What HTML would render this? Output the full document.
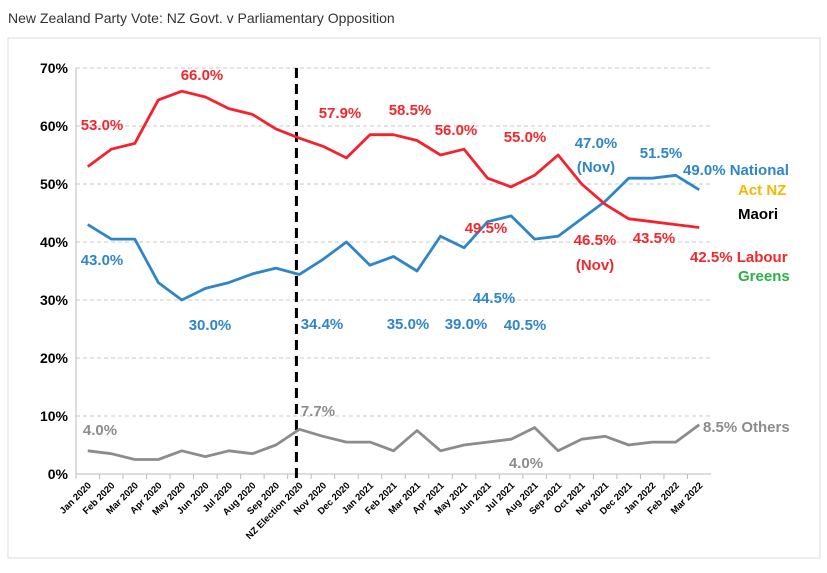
<!DOCTYPE html>
<html><head><meta charset="utf-8"><style>
body{margin:0;background:#fff;width:827px;height:568px;overflow:hidden;font-family:"Liberation Sans",sans-serif}
svg text{font-family:"Liberation Sans",sans-serif}
</style></head><body>
<svg id="chart" width="827" height="568" xmlns="http://www.w3.org/2000/svg">
<text x="8" y="23" font-size="14" fill="#333">New Zealand Party Vote: NZ Govt. v Parliamentary Opposition</text>
<rect x="8" y="38" width="812" height="520" fill="none" stroke="#ddd"/>
<g id="grid"></g><g id="axes"></g><g id="series"></g><g id="labels"></g>
</svg>
<script>
const categories=["Jan 2020","Feb 2020","Mar 2020","Apr 2020","May 2020","Jun 2020","Jul 2020","Aug 2020","Sep 2020","NZ Election 2020","Nov 2020","Dec 2020","Jan 2021","Feb 2021","Mar 2021","Apr 2021","May 2021","Jun 2021","Jul 2021","Aug 2021","Sep 2021","Oct 2021","Nov 2021","Dec 2021","Jan 2022","Feb 2022","Mar 2022"];
const labour=[53,56,57,64.5,66,65,63,62,59.5,57.9,56.5,54.5,58.5,58.5,57.5,55,56,51,49.5,51.5,55,50,46.5,44,43.5,43,42.5];
const national=[43,40.5,40.5,33,30,32,33,34.5,35.5,34.4,37,40,36,37.5,35,41,39,43.5,44.5,40.5,41,44,47,51,51,51.5,49];
const others=[4,3.5,2.5,2.5,4,3,4,3.5,5,7.7,6.5,5.5,5.5,4,7.5,4,5,5.5,6,8,4,6,6.5,5,5.5,5.5,8.5];
const yTicks=[0,10,20,30,40,50,60,70];
const NS="http://www.w3.org/2000/svg";
const L=76,R=711,T=68,B=474;
const step=(R-L)/categories.length;
const x=i=>L+step*(i+0.5);
const y=v=>B-(v/70)*(B-T);
function mk(tag,attrs,parent,txt){const e=document.createElementNS(NS,tag);for(const k in attrs)e.setAttribute(k,attrs[k]);if(txt!==undefined)e.textContent=txt;parent.appendChild(e);return e;}
const grid=document.getElementById('grid'),axes=document.getElementById('axes'),series=document.getElementById('series'),labels=document.getElementById('labels');
yTicks.forEach(t=>{
  if(t>0){const g=mk('line',{x1:L,x2:R,y1:y(t),y2:y(t),stroke:'#c8c8c8','stroke-dasharray':'4,3'},grid);
  
  }
  const tx=mk('text',{x:L-8,y:y(t)+5,'text-anchor':'end','font-size':14,'font-weight':'bold',fill:'#000'},axes,t+'%');
  
  
});
const yax=mk('line',{x1:L,x2:L,y1:T,y2:B,stroke:'#bbb'},axes);


const xax=mk('line',{x1:L,x2:R,y1:B,y2:B,stroke:'#bbb'},axes);


categories.forEach((c,i)=>{
  const tk=mk('line',{x1:L+step*i,x2:L+step*i,y1:B,y2:B+5,stroke:'#bbb'},axes);
  
  
  const tx=mk('text',{x:x(i)+4,y:B+12,'text-anchor':'end','font-size':9.5,'font-weight':'bold',fill:'#000',transform:`rotate(-45 ${x(i)+4} ${B+12})`},axes,c);
  
  
});
const el=mk('line',{x1:x(9)-3,x2:x(9)-3,y1:T,y2:B+10,stroke:'#000','stroke-width':3,'stroke-dasharray':'10,6'},series);


function line(vals,color,name){
  const p=mk('polyline',{points:vals.map((v,i)=>x(i)+','+y(v)).join(' '),fill:'none',stroke:color,'stroke-width':2.8,'stroke-linejoin':'round'},series);
  
  
}
line(others,'#8c8c8c','others-line');
line(national,'#2e86c8','national-line');
line(labour,'#f5222d','labour-line');
const RED='#f0282d',BLUE='#2e86c8',GREY='#8c8c8c';
const ann=[
 ['53.0%',102,130,RED],['66.0%',202,80,RED],['57.9%',340,118,RED],['58.5%',410,115,RED],['56.0%',456,135,RED],['55.0%',525,142,RED],['49.5%',486,233,RED],['43.5%',654,243,RED],['46.5%',595,245,RED],['(Nov)',595,270,RED],
 ['43.0%',102,265,BLUE],['30.0%',210,330,BLUE],['34.4%',322,329,BLUE],['35.0%',408,329,BLUE],['39.0%',466,329,BLUE],['44.5%',494,303,BLUE],['40.5%',525,330,BLUE],['47.0%',596,148,BLUE],['(Nov)',596,172,BLUE],['51.5%',661,158,BLUE],
 ['4.0%',100,435,GREY],['7.7%',318,416,GREY],['4.0%',526,468,GREY]
];
ann.forEach(a=>{const t=mk('text',{x:a[1],y:a[2],'text-anchor':'middle','font-size':15,'font-weight':'bold',fill:a[3]},labels,a[0]);
 
 });
const legend=[['49.0% National',683,175,BLUE],['Act NZ',738,195,'#f5b800'],['Maori',738,219,'#000'],['42.5% Labour',690,262,RED],['Greens',738,281,'#2bb04a'],['8.5% Others',703,432,GREY]];
legend.forEach(a=>{const t=mk('text',{x:a[1],y:a[2],'font-size':15,'font-weight':'bold',fill:a[3]},labels,a[0]);
 
 });
</script>
</body></html>
